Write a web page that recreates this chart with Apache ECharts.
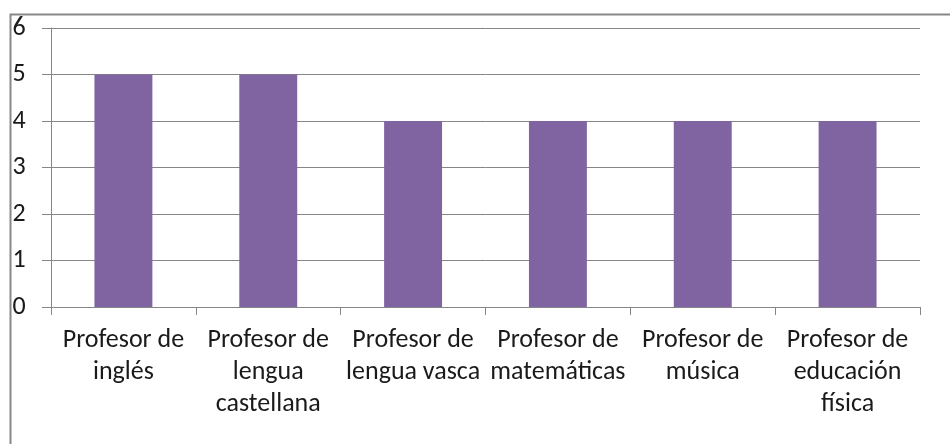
<!DOCTYPE html>
<html>
<head>
<meta charset="utf-8">
<script src="https://cdn.jsdelivr.net/npm/echarts@6/dist/echarts.min.js"></script>
<style>html,body{margin:0;padding:0;background:#fff;}#c{width:950px;height:444px;}</style>
</head>
<body>
<div id="c"></div>
<script>
const categories = ["Profesor de\ninglés", "Profesor de\nlengua\ncastellana", "Profesor de\nlengua vasca", "Profesor de\nmatemáticas", "Profesor de\nmúsica", "Profesor de\neducación\nfísica"];
const values = [5, 5, 4, 4, 4, 4];
const yTicks = [0, 1, 2, 3, 4, 5, 6];

const chart = echarts.init(document.getElementById('c'));
const font = 'Carlito, Lato, "Open Sans", sans-serif';
chart.setOption({
  animation: false,
  graphic: [{
    type: 'rect', left: 8, top: 12, shape: {x: 0, y: 0, width: 1200, height: 1200},
    style: {fill: 'none', stroke: '#878787', lineWidth: 2}, z: -1
  }],
  grid: {left: 51, right: 30, top: 28, bottom: 137},
  xAxis: {
    type: 'category', data: categories,
    axisLine: {lineStyle: {color: '#868686', width: 1}},
    axisTick: {show: true, length: 8, lineStyle: {color: '#868686'}},
    axisLabel: {interval: 0, color: '#1a1a1a', fontSize: 26, lineHeight: 32, margin: 17, fontFamily: font}
  },
  yAxis: {
    type: 'value', min: yTicks[0], max: yTicks[yTicks.length - 1], interval: 1,
    axisLine: {show: true, lineStyle: {color: '#868686'}},
    axisTick: {show: true, length: 9, lineStyle: {color: '#868686'}},
    splitLine: {lineStyle: {color: '#868686', width: 1}},
    axisLabel: {color: '#1a1a1a', fontSize: 26, margin: 32, align: 'center', fontFamily: font}
  },
  series: [{
    type: 'bar', data: values, barWidth: '40%',
    itemStyle: {color: '#8064A2'}
  }]
});
</script>
</body>
</html>
